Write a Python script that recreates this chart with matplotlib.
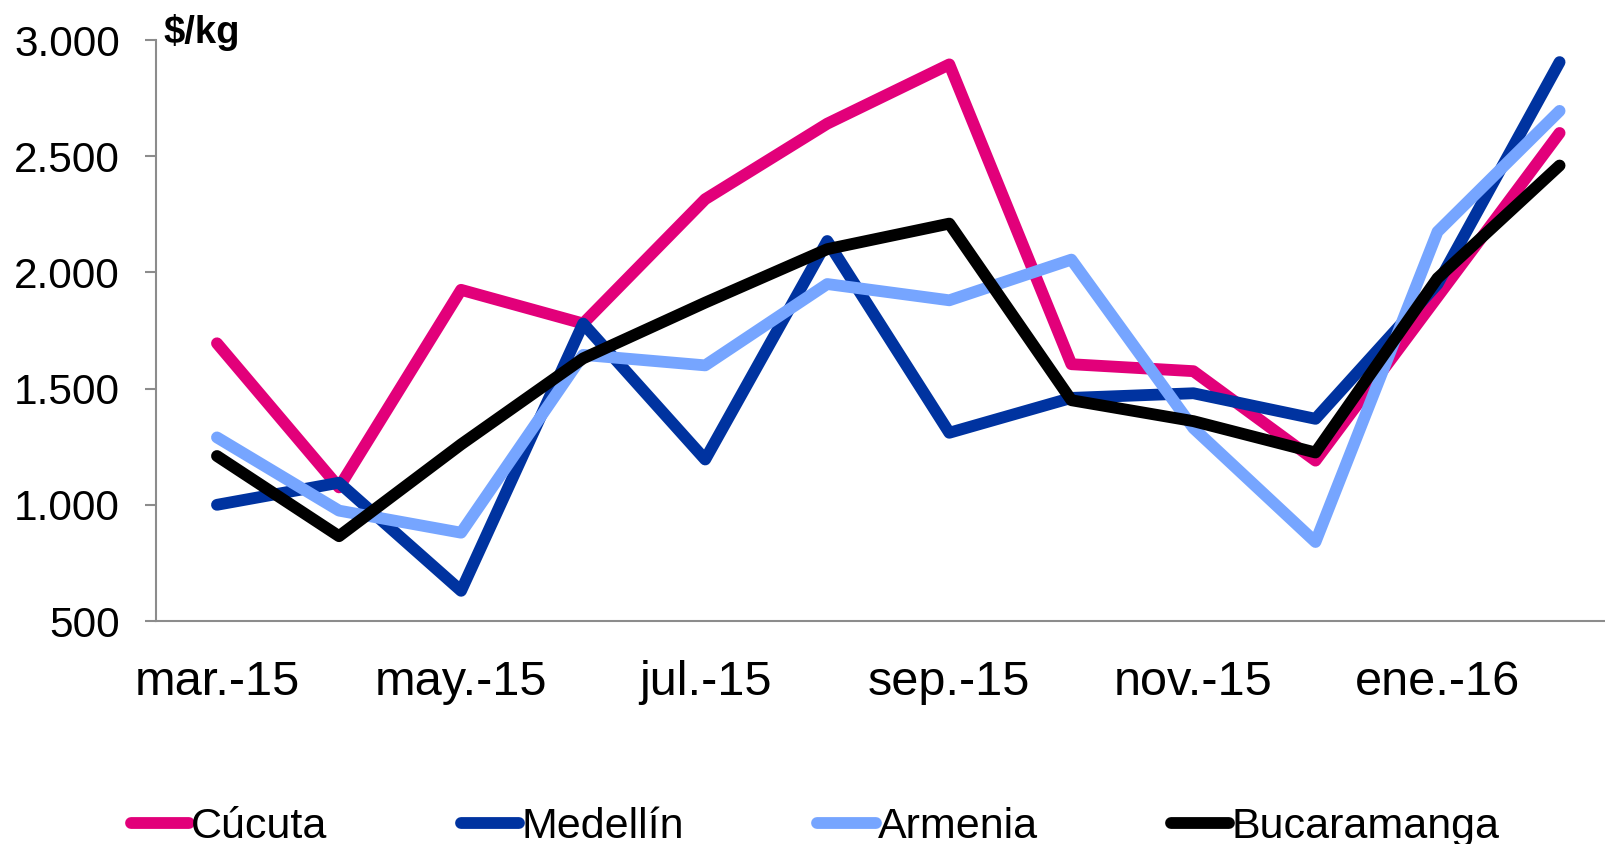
import matplotlib
matplotlib.use('Agg')
import matplotlib.pyplot as plt
from matplotlib.ticker import FuncFormatter

plt.rcParams['font.family'] = ['Liberation Sans', 'DejaVu Sans']

months = ['mar.-15', 'abr.-15', 'may.-15', 'jun.-15', 'jul.-15', 'ago.-15',
          'sep.-15', 'oct.-15', 'nov.-15', 'dic.-15', 'ene.-16', 'feb.-16']

cucuta = [1695, 1075, 1925, 1780, 2315, 2640, 2895, 1605, 1575, 1190, 1895, 2600]
medellin = [1000, 1095, 630, 1780, 1195, 2135, 1310, 1460, 1480, 1370, 1950, 2905]
armenia = [1290, 975, 880, 1645, 1600, 1950, 1880, 2055, 1330, 840, 2175, 2695]
bucaramanga = [1210, 865, 1260, 1630, 1870, 2100, 2210, 1450, 1360, 1225, 1975, 2460]

series = [('Cúcuta', cucuta, '#E2007A'),
          ('Medellín', medellin, '#0033A0'),
          ('Armenia', armenia, '#76A5FF'),
          ('Bucaramanga', bucaramanga, '#000000')]

fig = plt.figure(figsize=(16.06, 8.44), dpi=100)
ax = fig.add_axes([0.0971, 0.2642, 0.912, 0.6884])

x = list(range(len(months)))
for name, vals, col in series:
    ax.plot(x, vals, color=col, lw=8.5, label=name,
            solid_capstyle='round', solid_joinstyle='round')

ax.set_xlim(-0.5, 11.5)
ax.set_ylim(500, 3000)
ax.set_yticks([500, 1000, 1500, 2000, 2500, 3000])
ax.yaxis.set_major_formatter(FuncFormatter(lambda v, p: f'{int(v):,}'.replace(',', '.')))
ax.set_xticks(x[::2])
ax.set_xticklabels(months[::2])

for s in ['top', 'right']:
    ax.spines[s].set_visible(False)
for s in ['left', 'bottom']:
    ax.spines[s].set_color('#8c8c8c')
    ax.spines[s].set_linewidth(1.5)

ax.tick_params(axis='y', labelsize=30.5, length=8, width=1.5, color='#8c8c8c', pad=18)
ax.tick_params(axis='x', labelsize=35, length=0, pad=28)

fig.text(0.1015, 0.949, '$/kg', fontsize=27.5, fontweight='bold', va='baseline')

fig.legend(loc='center left', bbox_to_anchor=(0.0816, 0.020), ncol=4,
           frameon=False, fontsize=31, handlelength=1.35, handletextpad=0.05,
           columnspacing=3.1, borderpad=0, borderaxespad=0)

plt.savefig('out.png', dpi=100)
